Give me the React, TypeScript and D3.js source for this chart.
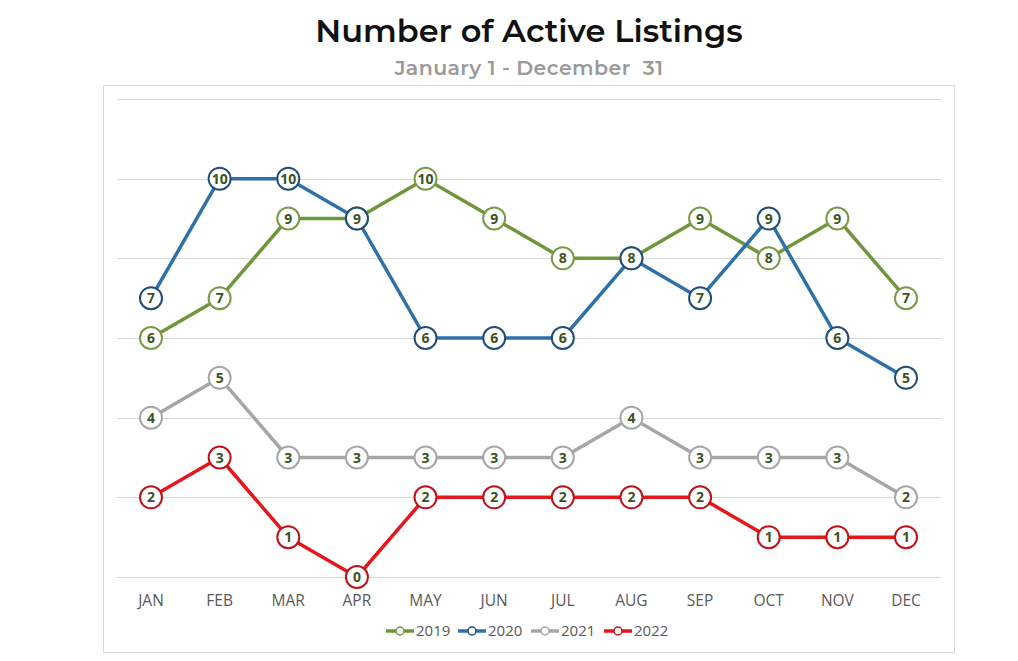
import React from "react";
import * as d3 from "d3";

const months = ["JAN","FEB","MAR","APR","MAY","JUN","JUL","AUG","SEP","OCT","NOV","DEC"];
const v2019 = [6,7,9,9,10,9,8,8,9,8,9,7];
const v2020 = [7,10,10,9,6,6,6,8,7,9,6,5];
const v2021 = [4,5,3,3,3,3,3,4,3,3,3,2];
const v2022 = [2,3,1,0,2,2,2,2,2,1,1,1];
const gridTicks = [0,2,4,6,8,10,12];

const seriesList = [
  { name: "2019", values: v2019, line: "#70963c", ring: "#7a9a45" },
  { name: "2020", values: v2020, line: "#2e70a8", ring: "#1f4e79" },
  { name: "2021", values: v2021, line: "#a6a6a6", ring: "#a6a6a6" },
  { name: "2022", values: v2022, line: "#e4171c", ring: "#c0141a" },
];

export default function App() {
  const W = 1018, H = 661;
  const x = d3.scalePoint<string>().domain(months).range([151, 906]);
  const y = d3.scaleLinear().domain([0, 12]).range([577, 99]);
  const line = d3.line<number>().x((_, i) => x(months[i])!).y(d => y(d));
  const font = "'Open Sans', 'Noto Sans', sans-serif";
  const legendX = [386, 458, 531, 604];
  return (
    <svg width={W} height={H} style={{ position: "absolute", left: 0, top: 0, background: "#fff" }}>
      <rect x={0} y={0} width={W} height={H} fill="#fff" />
      <text x={529} y={42} textAnchor="middle" fontFamily="Montserrat, 'Open Sans', sans-serif" fontWeight={600} fontSize={32} fill="#111">Number of Active Listings</text>
      <text x={529} y={75} textAnchor="middle" fontFamily="Montserrat, 'Open Sans', sans-serif" fontWeight={600} fontSize={20.5} letterSpacing={0.4} fill="#9a9a9a" style={{ whiteSpace: "pre" }}>{"January 1 - December  31"}</text>
      <rect x={103.5} y={85.5} width={851} height={567} fill="none" stroke="#d9d9d9" />
      {gridTicks.map(t => (
        <line key={t} x1={117} x2={942} y1={Math.round(y(t)) + 0.5} y2={Math.round(y(t)) + 0.5} stroke="#d9d9d9" strokeWidth={1} />
      ))}
      {months.map(m => (
        <text key={m} x={x(m)} y={606} textAnchor="middle" fontFamily={font} fontSize={15.5} fill="#595959">{m}</text>
      ))}
      {seriesList.map(s => (
        <g key={s.name}>
          <path d={line(s.values)!} fill="none" stroke={s.line} strokeWidth={3.5} strokeLinejoin="round" />
          {s.values.map((v, i) => (
            <g key={i}>
              <circle cx={x(months[i])} cy={y(v)} r={11} fill="#fff" stroke={s.ring} strokeWidth={2} />
              <text x={x(months[i])} y={y(v) + 5} textAnchor="middle" fontFamily={font} fontWeight={700} fontSize={14} fill="#3b5323">{v}</text>
            </g>
          ))}
        </g>
      ))}
      {seriesList.map((s, i) => (
        <g key={s.name}>
          <line x1={legendX[i]} x2={legendX[i] + 28} y1={631} y2={631} stroke={s.line} strokeWidth={3.5} />
          <circle cx={legendX[i] + 14} cy={631} r={4} fill="#fff" stroke={s.ring} strokeWidth={1.5} />
          <text x={legendX[i] + 30} y={636} fontFamily={font} fontSize={15} fill="#595959">{s.name}</text>
        </g>
      ))}
    </svg>
  );
}
